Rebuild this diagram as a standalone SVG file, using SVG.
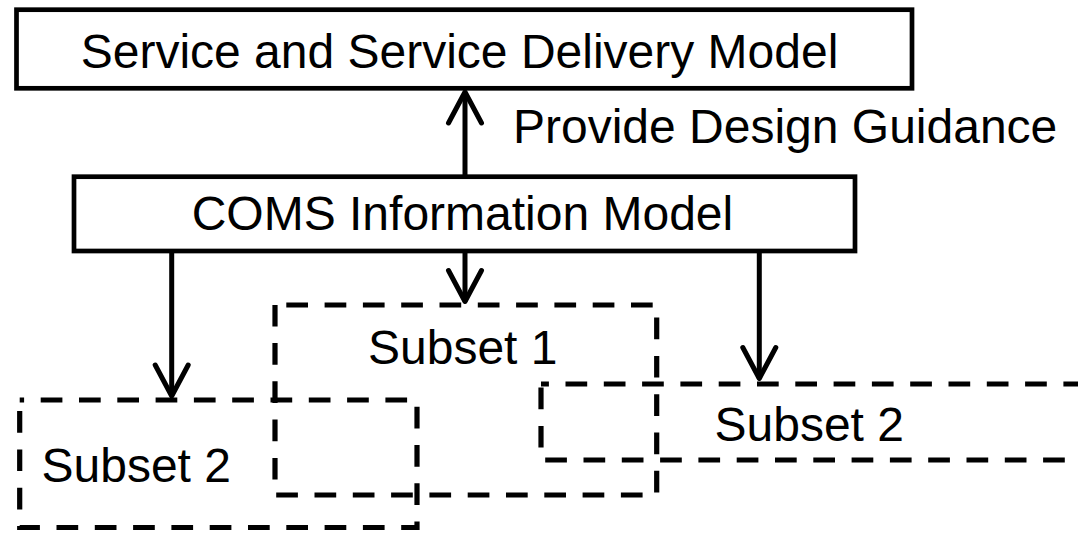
<svg xmlns="http://www.w3.org/2000/svg" width="1078" height="533" viewBox="0 0 1078 533">
<style>
.box{fill:none;stroke:#000;stroke-width:4.7}
.dash{fill:none;stroke:#000;stroke-width:5.2;stroke-dasharray:21.7 16.6;stroke-linecap:butt}
.lbl{font-family:"Liberation Sans",Arial,sans-serif;font-size:48px;fill:#000}
.conn{fill:none;stroke:#000;stroke-width:5}
</style>
<defs>
<marker id="open" markerUnits="userSpaceOnUse" markerWidth="44" markerHeight="44" viewBox="-38 -22 44 44" refX="0" refY="0" orient="auto" overflow="visible">
<path d="M -31 -16.5 L 0 0 L -31 16.5" fill="none" stroke="#000" stroke-width="5" stroke-linecap="round" stroke-linejoin="round"/>
</marker>
</defs>
<rect width="1078" height="533" fill="#fff"/>
<g id="service-model">
<rect class="box" x="16.5" y="9.7" width="895.5" height="78.6"/>
<text class="lbl" x="80.7" y="67.7">Service and Service Delivery Model</text>
</g>
<g id="coms-model">
<rect class="box" x="74" y="176.7" width="781" height="74.3"/>
<text class="lbl" x="191.7" y="230">COMS Information Model</text>
</g>
<g id="subset1">
<rect class="dash" x="275" y="305" width="381.7" height="190" style="stroke-dashoffset:27"/>
<text class="lbl" x="368" y="364">Subset 1</text>
</g>
<g id="subset2-left">
<rect class="dash" x="19.7" y="400" width="397.3" height="127.5" style="stroke-dashoffset:17.3"/>
<text class="lbl" x="41.5" y="481.7">Subset 2</text>
</g>
<g id="subset2-right">
<rect class="dash" x="541" y="384" width="600" height="76" style="stroke-dashoffset:13.8"/>
<text class="lbl" x="714.5" y="441">Subset 2</text>
</g>
<g id="connectors">
<line class="conn" x1="465" y1="176.7" x2="465" y2="92" marker-end="url(#open)"/>
<text class="lbl" x="513" y="143.3">Provide Design Guidance</text>
<line class="conn" x1="171.7" y1="251" x2="171.7" y2="396" marker-end="url(#open)"/>
<line class="conn" x1="465" y1="251" x2="465" y2="301.5" marker-end="url(#open)"/>
<line class="conn" x1="759.3" y1="251" x2="759.3" y2="378.5" marker-end="url(#open)"/>
</g>
</svg>
